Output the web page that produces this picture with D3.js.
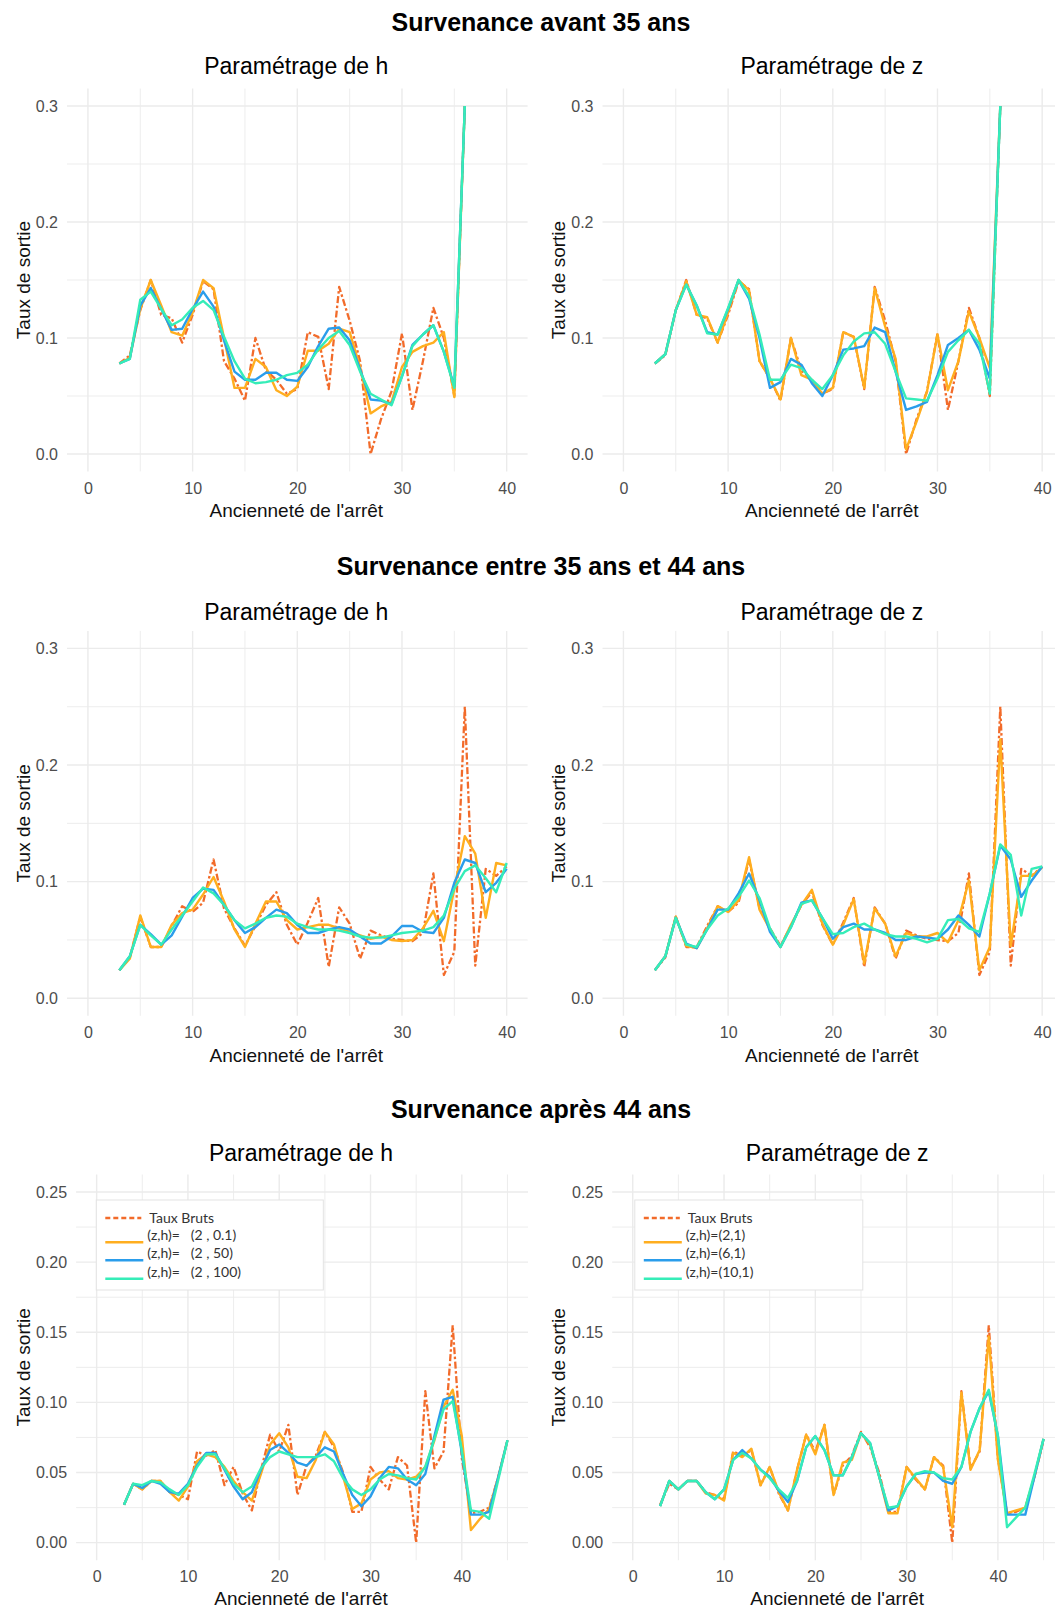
<!DOCTYPE html>
<html>
<head>
<meta charset="utf-8">
<script src="https://cdn.jsdelivr.net/npm/d3@7"></script>
<style>
  html, body { margin: 0; padding: 0; background: #fff; }
  svg { display: block; font-family: "Liberation Sans", Arial, sans-serif; }
</style>
</head>
<body>
<script>
// ---------------- Data ----------------
const rowTitles = ["Survenance avant 35 ans", "Survenance entre 35 ans et 44 ans", "Survenance après 44 ans"];
const panelTitles = ["Paramétrage de h", "Paramétrage de z"];
const xTitle = "Ancienneté de l'arrêt";
const yTitle = "Taux de sortie";

const legendH = ["Taux Bruts", "(z,h)=   (2 , 0.1)", "(z,h)=   (2 , 50)", "(z,h)=   (2 , 100)"];
const legendZ = ["Taux Bruts", "(z,h)=(2,1)", "(z,h)=(6,1)", "(z,h)=(10,1)"];

// x ticks (years of seniority) and y ticks
const xMajor = [0, 10, 20, 30, 40];
const xMinor = [5, 15, 25, 35];
const xMinorWide = [5, 15, 25, 35, 45];
const yMajorA = [0, 0.1, 0.2, 0.3];
const yMinorA = [0.05, 0.15, 0.25];
const yMajorB = [0, 0.05, 0.10, 0.15, 0.20, 0.25];
const yMinorB = [0.025, 0.075, 0.125, 0.175, 0.225];

// ---- Survenance avant 35 ans ----
const anc35 = [3,4,5,6,7,8,9,10,11,12,13,14,15,16,17,18,19,20,21,22,23,24,25,26,27,28,29,30,31,32,33,34,35,36];
const brut35 = [0.078,0.085,0.124,0.150,0.120,0.117,0.096,0.120,0.149,0.142,0.080,0.065,0.046,0.100,0.072,0.064,0.052,0.056,0.105,0.101,0.056,0.144,0.115,0.080,0.000,0.030,0.054,0.104,0.038,0.080,0.126,0.100,0.050,0.300];
const h01_35  = [0.078,0.083,0.125,0.150,0.128,0.105,0.102,0.122,0.150,0.143,0.100,0.057,0.057,0.082,0.075,0.055,0.050,0.058,0.089,0.089,0.095,0.108,0.105,0.075,0.035,0.041,0.045,0.075,0.088,0.093,0.096,0.105,0.049,0.300];
const h50_35  = [0.078,0.082,0.128,0.143,0.125,0.107,0.108,0.125,0.140,0.127,0.098,0.071,0.064,0.064,0.070,0.070,0.064,0.063,0.075,0.093,0.108,0.109,0.098,0.073,0.047,0.046,0.043,0.067,0.094,0.103,0.111,0.088,0.058,0.300];
const h100_35 = [0.078,0.082,0.133,0.140,0.125,0.111,0.116,0.126,0.132,0.124,0.101,0.080,0.065,0.061,0.062,0.064,0.068,0.070,0.077,0.090,0.100,0.106,0.094,0.071,0.052,0.047,0.042,0.067,0.093,0.103,0.111,0.088,0.057,0.300];
const z2_35   = [0.078,0.086,0.124,0.149,0.120,0.118,0.096,0.122,0.150,0.141,0.080,0.065,0.047,0.100,0.068,0.064,0.052,0.057,0.105,0.101,0.057,0.143,0.110,0.082,0.004,0.028,0.054,0.103,0.055,0.080,0.123,0.100,0.074,0.300];
const z6_35   = [0.078,0.086,0.124,0.146,0.128,0.105,0.103,0.125,0.150,0.134,0.100,0.057,0.062,0.082,0.077,0.061,0.050,0.068,0.090,0.091,0.093,0.109,0.105,0.071,0.038,0.041,0.045,0.068,0.094,0.100,0.107,0.090,0.065,0.300];
const z10_35  = [0.078,0.086,0.124,0.146,0.128,0.104,0.103,0.126,0.150,0.136,0.103,0.064,0.064,0.077,0.074,0.064,0.056,0.068,0.085,0.097,0.104,0.105,0.095,0.071,0.048,0.047,0.046,0.065,0.088,0.098,0.107,0.095,0.052,0.300];

// ---- Survenance entre 35 ans et 44 ans ----
const anc44 = [3,4,5,6,7,8,9,10,11,12,13,14,15,16,17,18,19,20,21,22,23,24,25,26,27,28,29,30,31,32,33,34,35,36,37,38,39,40];
const brut44 = [0.024,0.035,0.070,0.044,0.044,0.062,0.079,0.074,0.082,0.119,0.077,0.060,0.045,0.062,0.080,0.091,0.063,0.046,0.065,0.086,0.027,0.078,0.064,0.034,0.058,0.054,0.051,0.050,0.049,0.056,0.107,0.020,0.040,0.250,0.028,0.111,0.105,0.113];
const h01_44  = [0.024,0.034,0.071,0.044,0.044,0.063,0.073,0.076,0.089,0.104,0.083,0.059,0.044,0.064,0.083,0.083,0.067,0.059,0.061,0.063,0.063,0.060,0.057,0.054,0.051,0.053,0.050,0.049,0.050,0.060,0.075,0.049,0.094,0.139,0.124,0.069,0.116,0.114];
const h50_44  = [0.024,0.036,0.063,0.055,0.046,0.054,0.070,0.086,0.094,0.093,0.080,0.067,0.056,0.061,0.069,0.076,0.073,0.063,0.056,0.056,0.059,0.061,0.059,0.053,0.047,0.047,0.053,0.062,0.062,0.057,0.056,0.069,0.099,0.119,0.116,0.091,0.099,0.111];
const h100_44 = [0.024,0.036,0.063,0.054,0.046,0.059,0.071,0.083,0.095,0.090,0.080,0.067,0.060,0.064,0.069,0.071,0.070,0.064,0.061,0.059,0.059,0.058,0.056,0.053,0.052,0.052,0.054,0.056,0.057,0.058,0.061,0.071,0.094,0.109,0.114,0.103,0.091,0.116];
const z2_44   = [0.024,0.036,0.070,0.045,0.043,0.060,0.079,0.074,0.084,0.121,0.076,0.059,0.044,0.063,0.080,0.093,0.064,0.046,0.063,0.085,0.030,0.077,0.064,0.036,0.056,0.053,0.053,0.056,0.048,0.067,0.101,0.024,0.044,0.222,0.045,0.105,0.105,0.112];
const z6_44   = [0.024,0.036,0.069,0.047,0.043,0.059,0.076,0.076,0.090,0.107,0.084,0.057,0.044,0.061,0.082,0.084,0.069,0.051,0.061,0.064,0.059,0.059,0.056,0.050,0.050,0.053,0.052,0.051,0.059,0.071,0.063,0.053,0.090,0.131,0.119,0.087,0.101,0.113];
const z10_44  = [0.024,0.036,0.069,0.046,0.044,0.059,0.071,0.077,0.087,0.101,0.086,0.060,0.044,0.061,0.081,0.084,0.069,0.055,0.056,0.061,0.064,0.059,0.055,0.053,0.053,0.051,0.048,0.051,0.067,0.068,0.060,0.057,0.090,0.132,0.123,0.071,0.111,0.113];

// ---- Survenance après 44 ans ----
const anc45 = [3,4,5,6,7,8,9,10,11,12,13,14,15,16,17,18,19,20,21,22,23,24,25,26,27,28,29,30,31,32,33,34,35,36,37,38,39,40,41,42,43,44,45];
const brut45 = [0.027,0.042,0.038,0.044,0.044,0.036,0.034,0.031,0.065,0.062,0.066,0.041,0.054,0.035,0.023,0.052,0.077,0.065,0.084,0.034,0.055,0.062,0.079,0.068,0.050,0.022,0.022,0.054,0.045,0.038,0.061,0.055,0.000,0.108,0.053,0.065,0.155,0.060,0.021,0.022,0.025,0.047,0.073];
const h01_45  = [0.027,0.042,0.038,0.044,0.044,0.036,0.030,0.040,0.058,0.063,0.061,0.054,0.044,0.036,0.030,0.049,0.070,0.078,0.068,0.047,0.046,0.059,0.079,0.070,0.047,0.024,0.028,0.045,0.050,0.051,0.046,0.045,0.047,0.054,0.073,0.097,0.109,0.076,0.009,0.017,0.024,0.047,0.073];
const h50_45  = [0.027,0.042,0.039,0.044,0.042,0.036,0.035,0.042,0.055,0.064,0.064,0.052,0.040,0.031,0.036,0.052,0.066,0.070,0.064,0.057,0.055,0.061,0.068,0.065,0.049,0.034,0.026,0.033,0.046,0.054,0.053,0.045,0.041,0.049,0.076,0.102,0.104,0.064,0.020,0.020,0.022,0.047,0.073];
const h100_45 = [0.027,0.042,0.041,0.044,0.043,0.038,0.034,0.041,0.054,0.063,0.063,0.053,0.042,0.036,0.040,0.053,0.061,0.065,0.063,0.061,0.061,0.061,0.063,0.058,0.046,0.038,0.034,0.038,0.045,0.049,0.048,0.046,0.045,0.054,0.074,0.095,0.101,0.066,0.023,0.022,0.017,0.045,0.073];
const z2_45   = [0.026,0.044,0.038,0.044,0.044,0.035,0.034,0.030,0.064,0.061,0.067,0.041,0.054,0.036,0.023,0.052,0.077,0.063,0.084,0.034,0.057,0.059,0.078,0.070,0.047,0.021,0.021,0.054,0.046,0.038,0.061,0.054,0.011,0.107,0.052,0.066,0.147,0.059,0.021,0.023,0.025,0.047,0.074];
const z6_45   = [0.026,0.044,0.038,0.044,0.044,0.036,0.031,0.038,0.059,0.066,0.060,0.052,0.047,0.037,0.029,0.044,0.068,0.076,0.066,0.048,0.048,0.061,0.078,0.071,0.047,0.023,0.026,0.040,0.049,0.050,0.050,0.044,0.042,0.054,0.079,0.096,0.108,0.076,0.020,0.020,0.020,0.047,0.074];
const z10_45  = [0.026,0.044,0.038,0.044,0.044,0.036,0.031,0.038,0.059,0.064,0.060,0.052,0.046,0.038,0.032,0.044,0.068,0.076,0.066,0.048,0.048,0.061,0.078,0.071,0.047,0.025,0.026,0.040,0.049,0.051,0.050,0.046,0.045,0.054,0.079,0.096,0.109,0.076,0.011,0.018,0.025,0.049,0.074];

// ---------------- Layout & style ----------------
const W = 1055, H = 1610;
const COLORS = ["#F26B2A", "#FFAE1F", "#2A9DEB", "#35EDB8"]; // brut, s1, s2, s3
const GRID = "#EBEBEB";

const rows = [
  { title: rowTitles[0], titleY: 30.8, subY: 73.5, x: anc35, brut: brut35,
    yDom: [-0.015, 0.315], yRange: [471.4, 88.6], xDom: [-2, 42],
    yMajor: yMajorA, yMinor: yMinorA, xMinor: xMinor, fmt: d3.format(".1f"),
    xLabelY: 494.2, xTitleY: 517.2,
    panels: [
      { sub: panelTitles[0], xRange: [67, 527.6], yTitleX: 29.5, series: [h01_35, h50_35, h100_35] },
      { sub: panelTitles[1], xRange: [602.5, 1063.1], yTitleX: 564.5, series: [z2_35, z6_35, z10_35] }
    ] },
  { title: rowTitles[1], titleY: 575.2, subY: 619.5, x: anc44, brut: brut44,
    yDom: [-0.015, 0.315], yRange: [1015.8, 630.9], xDom: [-2, 42],
    yMajor: yMajorA, yMinor: yMinorA, xMinor: xMinor, fmt: d3.format(".1f"),
    xLabelY: 1038.4, xTitleY: 1061.5,
    panels: [
      { sub: panelTitles[0], xRange: [67, 527.6], yTitleX: 29.5, series: [h01_44, h50_44, h100_44] },
      { sub: panelTitles[1], xRange: [602.5, 1063.1], yTitleX: 564.5, series: [z2_44, z6_44, z10_44] }
    ] },
  { title: rowTitles[2], titleY: 1117.9, subY: 1160.5, x: anc45, brut: brut45,
    yDom: [-0.0125, 0.2625], yRange: [1560.2, 1174.5], xDom: [-2.25, 47.25],
    yMajor: yMajorB, yMinor: yMinorB, xMinor: xMinorWide, fmt: d3.format(".2f"),
    xLabelY: 1582.3, xTitleY: 1604.5,
    panels: [
      { sub: panelTitles[0], xRange: [76.1, 528.0], yTitleX: 29.5, series: [h01_45, h50_45, h100_45],
        legend: { x: 96.3, y: 1200, w: 227, h: 90, labels: legendH } },
      { sub: panelTitles[1], xRange: [612.2, 1064.1], yTitleX: 564.5, series: [z2_45, z6_45, z10_45],
        legend: { x: 634.8, y: 1200, w: 228, h: 90, labels: legendZ } }
    ] }
];

const svg = d3.select("body").append("svg")
  .attr("width", W).attr("height", H).attr("viewBox", `0 0 ${W} ${H}`);
svg.append("rect").attr("width", W).attr("height", H).attr("fill", "#fff");

rows.forEach((row, ri) => {
  // row title
  svg.append("text")
    .attr("x", 541).attr("y", row.titleY)
    .attr("text-anchor", "middle")
    .attr("font-size", 25).attr("font-weight", "bold").attr("fill", "#000")
    .text(row.title);

  row.panels.forEach((p, pi) => {
    const x = d3.scaleLinear().domain(row.xDom).range(p.xRange);
    const y = d3.scaleLinear().domain(row.yDom).range(row.yRange);
    const [x0, x1] = p.xRange;
    const [yb, yt] = row.yRange;
    const g = svg.append("g");

    const clipId = `clip-${ri}-${pi}`;
    svg.append("defs").append("clipPath").attr("id", clipId)
      .append("rect").attr("x", x0).attr("y", yt - 2).attr("width", x1 - x0).attr("height", yb - yt + 4);

    // grid: minor first, then major
    const grid = g.append("g");
    grid.selectAll("line.hmin").data(row.yMinor).join("line")
      .attr("x1", x0).attr("x2", x1).attr("y1", d => y(d)).attr("y2", d => y(d))
      .attr("stroke", GRID).attr("stroke-width", 0.9);
    grid.selectAll("line.vmin").data(row.xMinor).join("line")
      .attr("y1", yt).attr("y2", yb).attr("x1", d => x(d)).attr("x2", d => x(d))
      .attr("stroke", GRID).attr("stroke-width", 0.9);
    grid.selectAll("line.hmaj").data(row.yMajor).join("line")
      .attr("x1", x0).attr("x2", x1).attr("y1", d => y(d)).attr("y2", d => y(d))
      .attr("stroke", GRID).attr("stroke-width", 1.4);
    grid.selectAll("line.vmaj").data(xMajor).join("line")
      .attr("y1", yt).attr("y2", yb).attr("x1", d => x(d)).attr("x2", d => x(d))
      .attr("stroke", GRID).attr("stroke-width", 1.4);

    // axes (labels only)
    const ya = g.append("g").attr("transform", `translate(${x0},0)`)
      .call(d3.axisLeft(y).tickValues(row.yMajor).tickFormat(row.fmt).tickSize(0).tickPadding(9));
    ya.select(".domain").remove();
    ya.attr("font-family", null).attr("font-size", 16);
    ya.selectAll("text").attr("fill", "#4D4D4D");

    const xa = g.append("g").attr("transform", `translate(0,${yb})`)
      .call(d3.axisBottom(x).tickValues(xMajor).tickFormat(d3.format("d")).tickSize(0).tickPadding(0));
    xa.select(".domain").remove();
    xa.attr("font-family", null).attr("font-size", 16);
    xa.selectAll("text").attr("fill", "#4D4D4D").attr("dy", null).attr("y", row.xLabelY - yb);

    // titles
    const cx = (x0 + x1) / 2 - 1;
    g.append("text").attr("x", cx).attr("y", row.subY).attr("text-anchor", "middle")
      .attr("font-size", 23).attr("fill", "#000").text(p.sub);
    g.append("text").attr("x", cx).attr("y", row.xTitleY).attr("text-anchor", "middle")
      .attr("font-size", 19).attr("fill", "#111").text(xTitle);
    g.append("text")
      .attr("transform", `translate(${p.yTitleX},${(yb + yt) / 2}) rotate(-90)`)
      .attr("text-anchor", "middle").attr("font-size", 19).attr("fill", "#111").text(yTitle);

    // series
    const line = d3.line().x(d => x(d[0])).y(d => y(d[1]));
    const plot = g.append("g").attr("clip-path", `url(#${clipId})`).attr("fill", "none")
      .attr("stroke-linejoin", "round");
    plot.append("path").datum(d3.zip(row.x, row.brut)).attr("d", line)
      .attr("stroke", COLORS[0]).attr("stroke-width", 2.3).attr("stroke-dasharray", "7,2.5,2.5,2.5");
    p.series.forEach((s, si) => {
      plot.append("path").datum(d3.zip(row.x, s)).attr("d", line)
        .attr("stroke", COLORS[si + 1]).attr("stroke-width", 2.4);
    });

    // legend
    if (p.legend) {
      const L = p.legend;
      const lg = g.append("g").attr("font-family", "Lato, 'Open Sans', sans-serif");
      lg.append("rect").attr("x", L.x).attr("y", L.y).attr("width", L.w).attr("height", L.h)
        .attr("fill", "#fff").attr("stroke", "#E3E3E3").attr("stroke-width", 1);
      const lineY = [18, 42.2, 60.2, 78.7];
      const textY = [22.5, 40, 58, 76.5];
      L.labels.forEach((lab, i) => {
        lg.append("line")
          .attr("x1", L.x + 9).attr("x2", L.x + (i === 0 ? 45 : 47))
          .attr("y1", L.y + lineY[i]).attr("y2", L.y + lineY[i])
          .attr("stroke", COLORS[i]).attr("stroke-width", 2.6)
          .attr("stroke-dasharray", i === 0 ? "5,3" : null);
        lg.append("text")
          .attr("x", L.x + (i === 0 ? 53 : 51)).attr("y", L.y + textY[i])
          .attr("font-size", 14).attr("fill", "#333")
          .style("white-space", "pre")
          .text(lab);
      });
    }
  });
});
</script>
</body>
</html>
